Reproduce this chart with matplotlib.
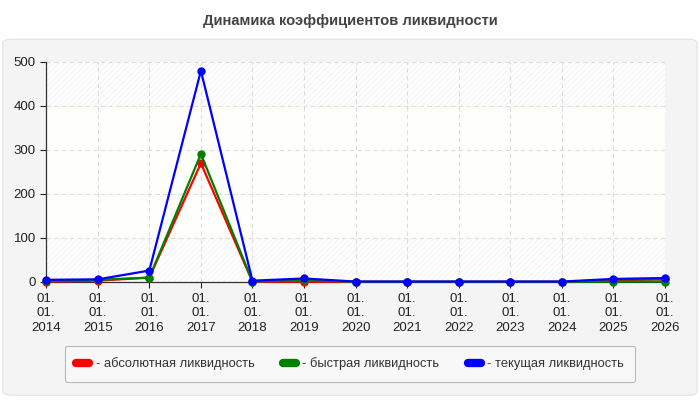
import matplotlib
matplotlib.use("Agg")
import matplotlib.pyplot as plt
from matplotlib.patches import FancyBboxPatch
from matplotlib.lines import Line2D

plt.rcParams['font.family'] = ['Liberation Sans', 'DejaVu Sans']
plt.rcParams['hatch.linewidth'] = 0.6

# data
years = ['2014', '2015', '2016', '2017', '2018', '2019', '2020',
         '2021', '2022', '2023', '2024', '2025', '2026']
absolute = [1, 3, 10, 270, 0.5, 0.5, 0.5, 0.5, 0.5, 0.5, 0.5, 4, 6]
quick = [3, 5, 10, 291, 1, 4, 0.5, 0.5, 0.5, 0.5, 0.5, 1, 1]
current = [5, 6, 26, 480, 3, 8, 1, 1, 1, 1, 1, 7, 9]
labels = ['- абсолютная ликвидность', '- быстрая ликвидность', '- текущая ликвидность']
colors = ['#ff0000', '#008000', '#0000ff']

fig = plt.figure(figsize=(7, 4), dpi=100)
fig.patch.set_facecolor('white')

# grey outer panel
panel = FancyBboxPatch((0.004, 0.012), 0.992, 0.89, boxstyle="round,pad=0,rounding_size=0.012",
                       transform=fig.transFigure, facecolor='#f4f4f4', edgecolor='#e2e2e2',
                       linewidth=0.8, zorder=-5)
fig.patches.append(panel)

fig.text(0.5, 0.948, 'Динамика коэффициентов ликвидности', ha='center', va='center',
         fontsize=10.6, fontweight='bold', color='#444444')

ax = fig.add_axes([0.066, 0.295, 0.884, 0.55])
ax.set_facecolor('white')
x = list(range(len(years)))

# background bands
ax.axhspan(0, 100, facecolor='white', edgecolor='#f0f0f0', hatch='//////', linewidth=0, zorder=0)
ax.axhspan(400, 500, facecolor='white', edgecolor='#f0f0f0', hatch='//////', linewidth=0, zorder=0)
ax.axhspan(100, 400, facecolor='#fefefa', linewidth=0, zorder=0)

for vals, c in zip([absolute, quick, current], colors):
    ax.plot(x, vals, color=c, linewidth=1.6, marker='o', markersize=5, clip_on=False, zorder=3)

ax.set_xlim(0, 12)
ax.set_ylim(0, 500)
ax.set_yticks([0, 100, 200, 300, 400, 500])
ax.set_xticks(x)
ax.set_xticklabels(['01.\n01.\n' + y for y in years], linespacing=1.25)
ax.tick_params(axis='both', labelsize=9.5, colors='#222222', length=4, width=0.8)
ax.tick_params(axis='x', pad=4)
ax.grid(True, color='#dddddd', linestyle=(0, (4, 3)), linewidth=0.8)
ax.set_axisbelow(True)
for s in ['top', 'right']:
    ax.spines[s].set_visible(False)
for s in ['left', 'bottom']:
    ax.spines[s].set_color('#333333')
    ax.spines[s].set_linewidth(0.9)

handles = [Line2D([0], [0], color=c, linewidth=6, solid_capstyle='round') for c in colors]
leg = fig.legend(handles, labels, loc='center', bbox_to_anchor=(0.5, 0.091), ncol=3,
                 fontsize=9.3, frameon=True, fancybox=True, handlelength=1.0, handletextpad=0.5,
                 columnspacing=2.2, borderpad=0.9)
leg.get_frame().set_facecolor('#fafafa')
leg.get_frame().set_edgecolor('#aaaaaa')
leg.get_frame().set_linewidth(0.8)
for t in leg.get_texts():
    t.set_color('#333333')

fig.savefig('out.png', dpi=100, facecolor=fig.get_facecolor())
